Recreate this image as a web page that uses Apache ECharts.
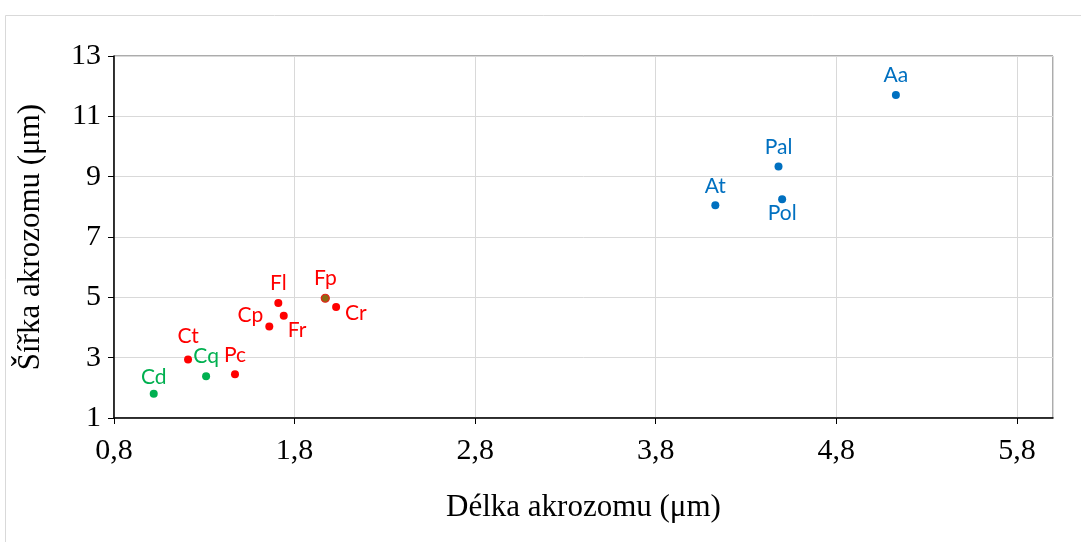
<!DOCTYPE html>
<html>
<head>
<meta charset="utf-8">
<title>Akrozom</title>
<script src="https://cdn.jsdelivr.net/npm/echarts@6/dist/echarts.min.js"></script>
<style>
  html, body { margin: 0; padding: 0; background: #fff; }
  #chart { width: 1081px; height: 542px; }
</style>
</head>
<body>
<div id="chart"></div>
<script>
  // data
  const greenNames = ['Cd', 'Cq']
  const greenX = [1.02, 1.31]
  const greenY = [1.8, 2.38]

  const redNames = ['Ct', 'Pc', 'Cp', 'Fl', 'Fr', 'Fp', 'Cr']
  const redX = [1.21, 1.47, 1.66, 1.71, 1.74, 1.97, 2.03]
  const redY = [2.94, 2.45, 4.03, 4.81, 4.39, 4.97, 4.68]

  const blueNames = ['At', 'Pal', 'Pol', 'Aa']
  const blueX = [4.13, 4.48, 4.5, 5.13]
  const blueY = [8.05, 9.34, 8.25, 11.71]

  const xTicks = [0.8, 1.8, 2.8, 3.8, 4.8, 5.8]
  const yTicks = [1, 3, 5, 7, 9, 11, 13]

  // where each point label sits
  const labelPlace = {
    Cd: { position: 'top', offset: [0, 3] },
    Cq: { position: 'top', offset: [0, -1] },
    Ct: { position: 'top', offset: [0, -4] },
    Pc: { position: 'top' },
    Cp: { position: 'left', distance: 2, offset: [0, -11] },
    Fl: { position: 'top' },
    Fr: { position: 'right', distance: 0, offset: [0, 14] },
    Fp: { position: 'top' },
    Cr: { position: 'right', offset: [0, 6] },
    At: { position: 'top' },
    Pal: { position: 'top' },
    Pol: { position: 'bottom', offset: [0, -6] },
    Aa: { position: 'top' }
  }

  const toPoints = (names, xs, ys) =>
    names.map((n, i) => {
      const item = { name: n, value: [xs[i], ys[i]], label: labelPlace[n] }
      if (n === 'Fp') {
        item.itemStyle = { color: '#8c6a12', borderColor: '#e8201a', borderWidth: 1.2 }
      }
      return item
    })

  const makeSeries = (names, xs, ys, color) => ({
    type: 'scatter',
    symbolSize: 8,
    itemStyle: { color: color, opacity: 1 },
    label: {
      show: true,
      formatter: '{b}',
      color: color,
      fontFamily: 'Lato',
      fontSize: 21
    },
    data: toPoints(names, xs, ys)
  })

  const commaFmt = v => {
    const s = Number(v).toFixed(1).replace('.', ',')
    return xTicks.some(t => Math.abs(t - v) < 1e-6) ? s : ''
  }

  const chart = echarts.init(document.getElementById('chart'))

  const option = {
    animation: false,
    backgroundColor: '#fff',
    graphic: [
      {
        type: 'rect',
        left: 3,
        top: 13,
        shape: { width: 1200, height: 600 },
        style: { fill: 'none', stroke: '#d9d9d9', lineWidth: 1 },
        silent: true
      }
    ],
    grid: {
      left: 114,
      right: 28,
      top: 56,
      bottom: 124,
      show: true,
      borderColor: '#595959',
      borderWidth: 1
    },
    xAxis: {
      type: 'value',
      min: xTicks[0],
      max: 6.0,
      interval: 1,
      name: 'Délka akrozomu (μm)',
      nameLocation: 'middle',
      nameGap: 74,
      nameTextStyle: { fontFamily: 'Liberation Serif', fontSize: 31, color: '#000' },
      axisLine: { lineStyle: { color: '#000', width: 1.5 } },
      axisTick: { show: true, length: 6, lineStyle: { color: '#000' } },
      axisLabel: {
        formatter: commaFmt,
        showMaxLabel: false,
        margin: 18,
        fontFamily: 'Liberation Serif',
        fontSize: 30,
        color: '#000'
      },
      splitLine: { lineStyle: { color: '#d9d9d9', width: 1 } }
    },
    yAxis: {
      type: 'value',
      min: yTicks[0],
      max: yTicks[yTicks.length - 1],
      interval: 2,
      name: 'Šířka akrozomu (μm)',
      nameLocation: 'middle',
      nameGap: 68,
      nameRotate: 90,
      nameTextStyle: { fontFamily: 'Liberation Serif', fontSize: 31, color: '#000' },
      axisLine: { show: true, lineStyle: { color: '#000', width: 1.5 } },
      axisTick: { show: true, length: 6, lineStyle: { color: '#000' } },
      axisLabel: {
        margin: 13,
        fontFamily: 'Liberation Serif',
        fontSize: 30,
        color: '#000'
      },
      splitLine: { lineStyle: { color: '#d9d9d9', width: 1 } }
    },
    series: [
      makeSeries(greenNames, greenX, greenY, '#00b050'),
      makeSeries(redNames, redX, redY, '#ff0000'),
      makeSeries(blueNames, blueX, blueY, '#0070c0')
    ]
  }

  chart.setOption(option)
</script>
</body>
</html>
